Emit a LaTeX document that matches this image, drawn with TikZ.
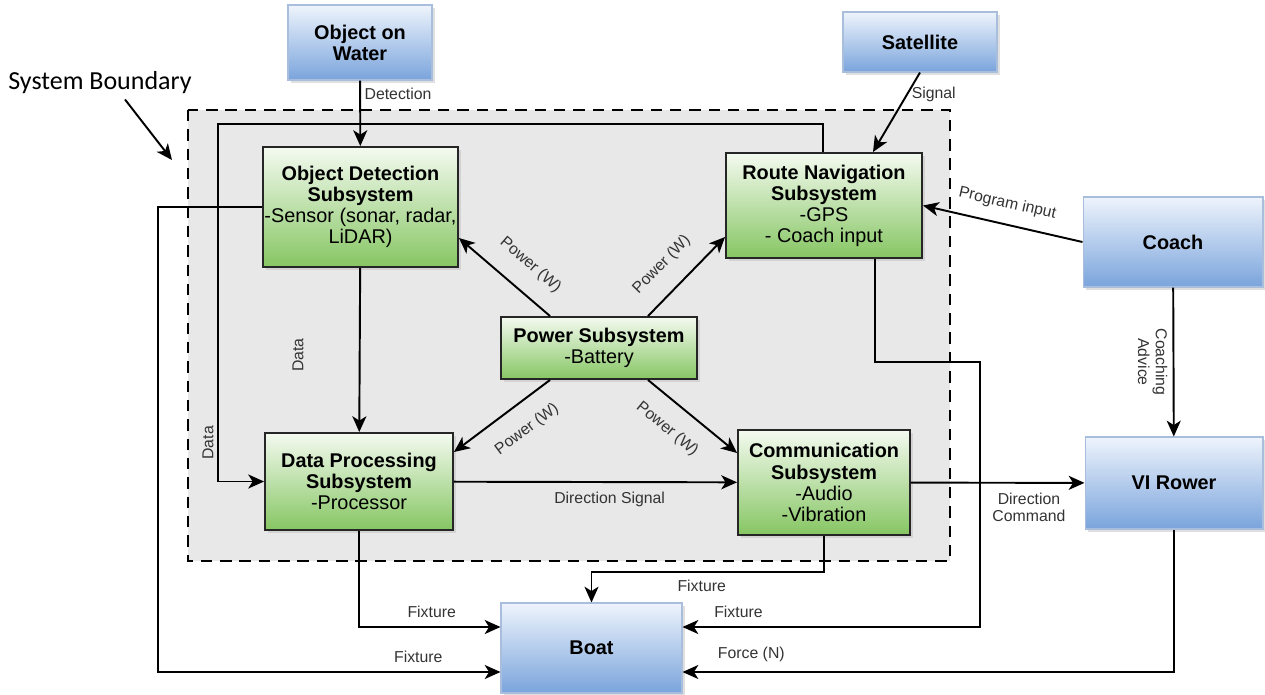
\documentclass[tikz,border=0pt]{standalone}
\usepackage{fontspec}
\setmainfont{Liberation Sans}
\newfontfamily\noteFont{Carlito}
\usetikzlibrary{arrows.meta,shadows}
\definecolor{blueTop}{HTML}{EEF4FC}
\definecolor{blueBot}{HTML}{7AA4DC}
\definecolor{blueLine}{HTML}{A9BEDD}
\definecolor{greenTop}{HTML}{F4FAF0}
\definecolor{greenBot}{HTML}{86C663}
\definecolor{bndFill}{HTML}{E8E8E8}
\definecolor{lblText}{HTML}{333333}
\tikzset{
  outer/.style={draw=blueLine, line width=0.6pt, top color=blueTop, bottom color=blueBot,
    inner sep=0pt, align=center, font=\fontsize{11.3}{12}\selectfont\bfseries,
    drop shadow={shadow xshift=1.5pt, shadow yshift=-1.5pt, opacity=0.25}},
  subsys/.style={draw=black!85, line width=1.1pt, top color=greenTop, bottom color=greenBot,
    inner sep=0pt, align=center, font=\fontsize{11.3}{12}\selectfont,
    drop shadow={shadow xshift=1.5pt, shadow yshift=-1.5pt, opacity=0.2}},
  flow/.style={line width=1.1pt, -{Stealth[length=9pt,width=8pt,inset=2.5pt]}},
  lbl/.style={font=\fontsize{9}{10}\selectfont, text=lblText, inner sep=2pt, align=center},
}

\begin{document}
\begin{tikzpicture}[x=0.02cm,y=-0.02cm]
  \useasboundingbox (0,0) rectangle (1265,694);

  % system boundary
  \draw[fill=bndFill, line width=1.2pt, dash pattern=on 6.5pt off 4.5pt] (188,110) rectangle (950,561);
  \node[font=\noteFont\fontsize{14.8}{16}\selectfont, inner sep=0pt] (sysbnd) at (100,83) {System Boundary};
  \coordinate (bndTip) at (172,160);
  \draw[line width=1.1pt, -{Stealth[length=9pt,width=8pt,inset=2.5pt]}] ([xshift=0.5cm,yshift=-0.1cm]sysbnd.south) -- (bndTip);

  % outside actors
  \node[outer, minimum width=2.88cm, minimum height=1.5cm] (water) at (360,42.5) {Object on\\Water};
  \node[outer, minimum width=3.08cm, minimum height=1.2cm] (sat) at (920,42) {Satellite};
  \node[outer, minimum width=3.6cm, minimum height=1.8cm] (coach) at (1173,242) {Coach};
  \node[outer, minimum width=3.56cm, minimum height=1.84cm] (rower) at (1174,483) {VI Rower};
  \node[outer, minimum width=3.62cm, minimum height=1.8cm] (boat) at (591.5,648) {Boat};

  % subsystems
  \node[subsys, minimum width=3.9cm, minimum height=2.4cm] (detect) at (360.5,207)
    {\textbf{Object Detection}\\\textbf{Subsystem}\\-Sensor (sonar, radar,\\LiDAR)};
  \node[subsys, minimum width=3.92cm, minimum height=2.1cm] (route) at (824,205.5)
    {\textbf{Route Navigation}\\\textbf{Subsystem}\\-GPS\\- Coach input};
  \node[subsys, minimum width=3.92cm, minimum height=1.24cm] (power) at (599,348)
    {\textbf{Power Subsystem}\\-Battery};
  \node[subsys, minimum width=3.76cm, minimum height=1.94cm] (proc) at (359,481.5)
    {\textbf{Data Processing}\\\textbf{Subsystem}\\-Processor};
  \node[subsys, minimum width=3.44cm, minimum height=2.1cm] (comm) at (824,482.5)
    {\textbf{Communication}\\\textbf{Subsystem}\\-Audio\\-Vibration};

  \coordinate (loopTop) at (218,124);
  \coordinate (leftTop) at (158,207);
  \coordinate (routeBend) at (980,362);
  \coordinate (commBend) at (824,572);

  % signals into the system
  \draw[flow] (water) -- (detect) node[lbl, pos=0.2, right] {Detection};
  \draw[flow] (sat.south) -- ([xshift=0.98cm]route.north) node[lbl, pos=0.27, right] {Signal};
  \draw[flow] (coach.west) -- (route.east) node[lbl, midway, sloped, above=5pt] {Program input};
  \draw[flow] (coach) -- (rower) node[lbl, midway, rotate=-90, below=1pt] {Coaching\\Advice};

  % data flow
  \draw[flow] (detect) -- (proc);
  \node[lbl, rotate=90] (dataLbl) at (298,355) {Data};
  \draw[flow] ([xshift=-0.02cm]route.north) |- (loopTop) |- (proc.west) node[lbl, pos=0.446, rotate=90, above] {Data};
  \draw[flow] (proc) -- (comm) node[lbl, pos=0.55, below=3pt] {Direction Signal};
  \draw[flow] (comm) -- (rower) node[lbl, pos=0.68, below=3pt] {Direction\\Command};

  % power
  \draw[flow] ([xshift=-0.98cm]power.north) -- ([yshift=-0.62cm]detect.east) node[lbl, pos=0.4, sloped, above=8pt] {Power (W)};
  \draw[flow] ([xshift=0.98cm]power.north) -- ([yshift=-0.63cm]route.west) node[lbl, pos=0.42, sloped, above=8pt] {Power (W)};
  \draw[flow] ([xshift=-0.98cm]power.south) -- ([yshift=0.59cm]proc.east) node[lbl, pos=0.4, sloped, below=8pt] {Power (W)};
  \draw[flow] ([xshift=0.98cm]power.south) -- ([yshift=0.59cm]comm.west) node[lbl, pos=0.4, sloped, below=8pt] {Power (W)};

  % fixtures and force on the boat
  \draw[flow] (proc.south) |- ([yshift=0.42cm]boat.west) node[lbl, pos=0.757, above=3pt] {Fixture};
  \draw[flow] (detect.west) -- (leftTop) |- ([yshift=-0.48cm]boat.west) node[lbl, pos=0.88, above=3pt] {Fixture};
  \draw[flow] (comm.south) -- (commBend) -| (boat.north) node[lbl, pos=0.263, below=2pt] {Fixture};
  \draw[flow] ([xshift=1.02cm]route.south) |- (routeBend) |- ([yshift=0.42cm]boat.east) node[lbl, pos=0.906, above=3pt] {Fixture};
  \draw[flow] (rower.south) |- ([yshift=-0.48cm]boat.east) node[lbl, pos=0.93, above=3pt] {Force (N)};
\end{tikzpicture}
\end{document}
